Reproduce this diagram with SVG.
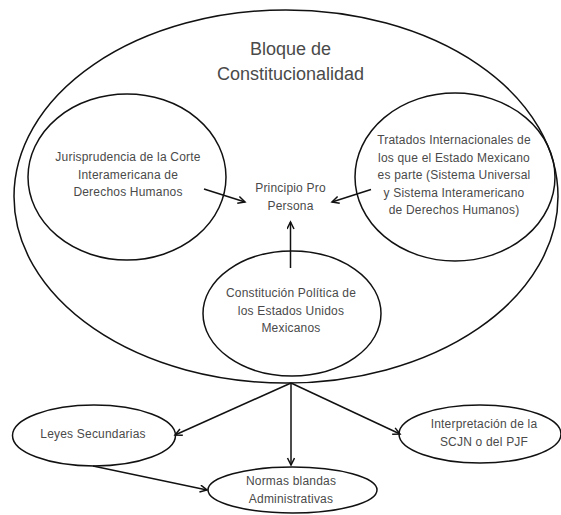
<svg xmlns="http://www.w3.org/2000/svg" width="561" height="515" viewBox="0 0 561 515">
<style>
.n{fill:none;stroke:#111;stroke-width:1.5}
.t{font-family:"Liberation Sans",Arial,sans-serif;font-size:12px;letter-spacing:0.2px;fill:#4a4a4a;text-anchor:middle}
.big{font-size:18px;letter-spacing:0}
.c{stroke:#111;stroke-width:1.5;fill:none;marker-end:url(#ah)}
</style>
<defs>
<marker id="ah" markerUnits="userSpaceOnUse" markerWidth="12" markerHeight="12" refX="8" refY="4" orient="auto">
<path d="M1,0.5 L8,4 L1,7.5" fill="none" stroke="#111" stroke-width="1.5"/>
</marker>
</defs>
<rect width="561" height="515" fill="#fff"/>
<g id="bloque">
<ellipse class="n" cx="286" cy="196.5" rx="272" ry="186.5"/>
<text class="t big" x="290.5" y="55">Bloque de</text>
<text class="t big" x="290.5" y="80">Constitucionalidad</text>
</g>
<g id="jurisprudencia">
<ellipse class="n" cx="127" cy="177" rx="99" ry="83"/>
<text class="t" x="128" y="161">Jurisprudencia de la Corte</text>
<text class="t" x="128" y="178.5">Interamericana de</text>
<text class="t" x="128" y="196">Derechos Humanos</text>
</g>
<g id="tratados">
<ellipse class="n" cx="455" cy="177" rx="100" ry="84"/>
<text class="t" x="454" y="144">Tratados Internacionales de</text>
<text class="t" x="454" y="161.5">los que el Estado Mexicano</text>
<text class="t" x="454" y="179">es parte (Sistema Universal</text>
<text class="t" x="454" y="196.5">y Sistema Interamericano</text>
<text class="t" x="454" y="214">de Derechos Humanos)</text>
</g>
<g id="principio">
<text class="t" x="290.5" y="192">Principio Pro</text>
<text class="t" x="290.5" y="209.5">Persona</text>
</g>
<g id="constitucion">
<ellipse class="n" cx="292" cy="313.5" rx="89" ry="62.5"/>
<text class="t" x="291" y="297">Constitución Política de</text>
<text class="t" x="291" y="314.5">los Estados Unidos</text>
<text class="t" x="291" y="332">Mexicanos</text>
</g>
<g id="leyes">
<ellipse class="n" cx="94" cy="435.5" rx="81.5" ry="30.5"/>
<text class="t" x="93" y="438">Leyes Secundarias</text>
</g>
<g id="interpretacion">
<ellipse class="n" cx="480" cy="434" rx="81" ry="29"/>
<text class="t" x="484" y="428">Interpretación de la</text>
<text class="t" x="484" y="445.5">SCJN o del PJF</text>
</g>
<g id="normas">
<ellipse class="n" cx="292.5" cy="490" rx="84.5" ry="23"/>
<text class="t" x="291" y="485">Normas blandas</text>
<text class="t" x="291" y="502.5">Administrativas</text>
</g>
<g id="connectors">
<line class="c" x1="204" y1="189" x2="245" y2="202"/>
<line class="c" x1="371" y1="189.5" x2="332" y2="202"/>
<line class="c" x1="290.5" y1="268" x2="290.5" y2="222"/>
<line class="c" x1="291" y1="383" x2="175" y2="435"/>
<line class="c" x1="291" y1="383" x2="291" y2="465"/>
<line class="c" x1="291" y1="383" x2="400" y2="434"/>
<line class="c" x1="93" y1="466" x2="207" y2="490"/>
</g>
</svg>
